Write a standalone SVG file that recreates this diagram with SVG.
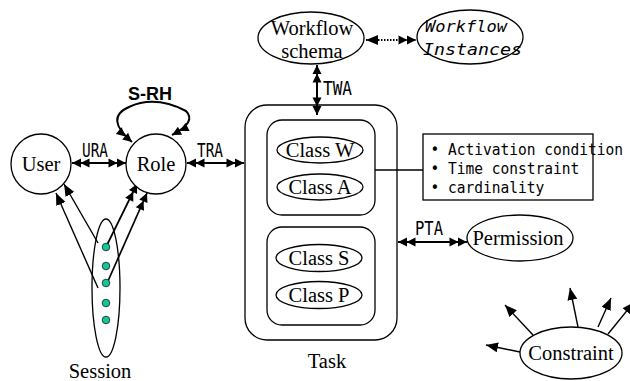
<svg xmlns="http://www.w3.org/2000/svg" width="630" height="381" viewBox="0 0 630 381">
  <style>
    .shape { fill: #ffffff; stroke: #000000; stroke-width: 1.3; }
    .serif { font-family: "Liberation Serif", "Times New Roman", serif; font-size: 20.5px; fill: #000000; text-anchor: middle; }
    .mono { font-family: "DejaVu Sans Mono", "Liberation Mono", monospace; fill: #000000; }
    .rel { font-size: 19.5px; }
    .note { font-size: 16px; }
    .ital { font-size: 16.5px; font-style: italic; }
    .bold { font-family: "Liberation Sans", Arial, sans-serif; font-weight: bold; font-size: 18px; text-anchor: middle; fill: #000000; }
    .link { fill: none; stroke: #000000; stroke-width: 2; }
    .mid { fill: none; stroke: #000000; stroke-width: 1.7; }
    .thin { fill: none; stroke: #000000; stroke-width: 1.4; }
    .dot { fill: #12c79a; stroke: #1a1a1a; stroke-width: 0.8; }
  </style>
  <defs>
    <!-- two stacked filled heads -->
    <marker id="dbl" viewBox="0 0 18 10" refX="18" refY="5" markerWidth="18" markerHeight="10" markerUnits="userSpaceOnUse" orient="auto-start-reverse">
      <path d="M18,5 L9,0.5 L9,9.5 Z M9.5,5 L0.5,0.5 L0.5,9.5 Z" fill="#000000"/>
    </marker>
    <!-- single filled head -->
    <marker id="one" viewBox="0 0 12 10" refX="12" refY="5" markerWidth="12" markerHeight="10" markerUnits="userSpaceOnUse" orient="auto-start-reverse">
      <path d="M12,5 L0,0 L0,10 Z" fill="#000000"/>
    </marker>
  </defs>

  <!-- relationships -->
  <g id="connectors">
    <line class="link" x1="72" y1="163" x2="126" y2="163" marker-start="url(#dbl)" marker-end="url(#dbl)"/>
    <text class="mono rel" x="82" y="157" textLength="26" lengthAdjust="spacingAndGlyphs">URA</text>

    <line class="link" x1="187" y1="163" x2="244" y2="163" marker-start="url(#dbl)" marker-end="url(#dbl)"/>
    <text class="mono rel" x="197" y="157" textLength="26" lengthAdjust="spacingAndGlyphs">TRA</text>

    <path class="link" d="M132,142 Q104,118 129,107 Q155,95 186,111 Q197,122 172,135" marker-start="url(#dbl)" marker-end="url(#dbl)"/>
    <text class="bold" x="150" y="100">S-RH</text>

    <line class="link" x1="317" y1="65" x2="317" y2="115" marker-start="url(#dbl)" marker-end="url(#dbl)"/>
    <text class="mono rel" x="323" y="95" textLength="29" lengthAdjust="spacingAndGlyphs">TWA</text>

    <line class="link" x1="366" y1="40" x2="416" y2="40" stroke-dasharray="1.5 1.5" marker-start="url(#one)" marker-end="url(#dbl)"/>

    <line class="link" x1="398" y1="242" x2="467" y2="242" marker-start="url(#dbl)" marker-end="url(#dbl)"/>
    <text class="mono rel" x="415" y="235" textLength="28" lengthAdjust="spacingAndGlyphs">PTA</text>

    <line class="thin" x1="375" y1="170" x2="423" y2="170"/>

    <!-- session activations -->
    <line class="thin" x1="98" y1="243" x2="64" y2="184" marker-end="url(#one)"/>
    <line class="thin" x1="98" y1="288" x2="56" y2="193" marker-end="url(#one)"/>
    <line class="mid" x1="106" y1="247" x2="137" y2="184" marker-end="url(#dbl)"/>
    <line class="mid" x1="108" y1="281" x2="147" y2="193" marker-end="url(#dbl)"/>

    <!-- constraint rays -->
    <line class="thin" x1="520" y1="352" x2="486" y2="345" marker-end="url(#one)"/>
    <line class="thin" x1="533" y1="335" x2="505" y2="305" marker-end="url(#one)"/>
    <line class="thin" x1="578" y1="327" x2="570" y2="288" marker-end="url(#one)"/>
    <line class="thin" x1="598" y1="327" x2="611" y2="298" marker-end="url(#one)"/>
    <line class="thin" x1="608" y1="334" x2="634" y2="302" marker-end="url(#one)"/>
  </g>

  <g id="user">
    <circle class="shape" cx="41" cy="164" r="30"/>
    <text class="serif" x="41" y="171">User</text>
  </g>

  <g id="role">
    <circle class="shape" cx="156" cy="164" r="30"/>
    <text class="serif" x="156" y="171">Role</text>
  </g>

  <g id="session">
    <ellipse class="shape" style="fill:none" cx="106" cy="288" rx="14" ry="69"/>
    <circle class="dot" cx="106" cy="247" r="3.8"/>
    <circle class="dot" cx="106" cy="266" r="3.8"/>
    <circle class="dot" cx="106" cy="283" r="3.8"/>
    <circle class="dot" cx="106" cy="303" r="3.8"/>
    <circle class="dot" cx="106" cy="320" r="3.8"/>
    <text class="serif" x="100" y="378">Session</text>
  </g>

  <g id="task">
    <rect class="shape" style="fill:none" x="245" y="105" width="152" height="235" rx="22"/>
    <rect class="shape" x="267" y="120" width="108" height="95" rx="15"/>
    <rect class="shape" x="267" y="227" width="108" height="98" rx="15"/>
    <g id="class-w">
      <ellipse class="shape" cx="320" cy="150" rx="43" ry="13"/>
      <text class="serif" x="320" y="157">Class W</text>
    </g>
    <g id="class-a">
      <ellipse class="shape" cx="320" cy="187" rx="43" ry="13"/>
      <text class="serif" x="320" y="194">Class A</text>
    </g>
    <g id="class-s">
      <ellipse class="shape" cx="319" cy="258" rx="43" ry="13.5"/>
      <text class="serif" x="319" y="265">Class S</text>
    </g>
    <g id="class-p">
      <ellipse class="shape" cx="319" cy="295" rx="43" ry="13.5"/>
      <text class="serif" x="319" y="302">Class P</text>
    </g>
    <text class="serif" x="327" y="368">Task</text>
  </g>

  <g id="workflow-schema">
    <ellipse class="shape" cx="311" cy="38" rx="53" ry="26"/>
    <text class="serif" x="312" y="35">Workflow</text>
    <text class="serif" x="312" y="58">schema</text>
  </g>

  <g id="workflow-instances">
    <ellipse class="shape" cx="470" cy="37" rx="53" ry="27"/>
    <text class="mono ital" x="425" y="32" textLength="82" lengthAdjust="spacingAndGlyphs">Workflow</text>
    <text class="mono ital" x="423" y="55" textLength="99" lengthAdjust="spacingAndGlyphs">Instances</text>
  </g>

  <g id="task-attributes">
    <rect class="shape" x="423" y="134" width="170" height="66"/>
    <text class="mono note" x="430.5" y="155" textLength="192.5" lengthAdjust="spacingAndGlyphs">• Activation condition</text>
    <text class="mono note" x="430.5" y="174" textLength="148.75" lengthAdjust="spacingAndGlyphs">• Time constraint</text>
    <text class="mono note" x="430.5" y="193" textLength="113.75" lengthAdjust="spacingAndGlyphs">• cardinality</text>
  </g>

  <g id="permission">
    <ellipse class="shape" cx="520" cy="238" rx="53" ry="23"/>
    <text class="serif" x="518" y="245">Permission</text>
  </g>

  <g id="constraint">
    <ellipse class="shape" cx="571" cy="353" rx="51" ry="26"/>
    <text class="serif" x="571" y="360">Constraint</text>
  </g>
</svg>
